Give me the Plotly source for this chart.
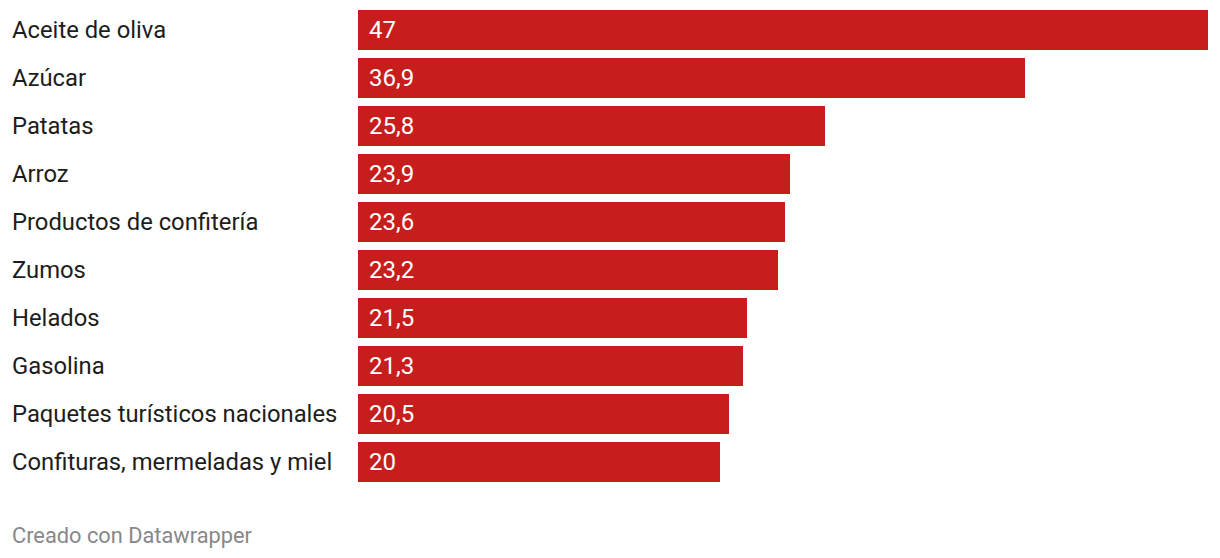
import plotly.graph_objects as go

categories = ["Aceite de oliva", "Azúcar", "Patatas", "Arroz", "Productos de confitería",
              "Zumos", "Helados", "Gasolina", "Paquetes turísticos nacionales",
              "Confituras, mermeladas y miel"]
values = [47, 36.9, 25.8, 23.9, 23.6, 23.2, 21.5, 21.3, 20.5, 20]
value_labels = [f"{v:g}".replace(".", ",") for v in values]

W, H = 1220, 558
L, R, T, B = 358, 12, 6, 72
plot_w = W - L - R
plot_h = H - T - B

fig = go.Figure(go.Bar(
    x=values, y=categories, orientation="h",
    marker=dict(color="#c71e1d", line=dict(width=0)),
    width=40/48, hoverinfo="skip",
))

annotations = []
for c, lab in zip(categories, value_labels):
    annotations.append(dict(x=0, y=c, xref="x", yref="y", text=lab, showarrow=False,
                            xanchor="left", xshift=9,
                            font=dict(family="Roboto", size=24, color="#ffffff")))
    annotations.append(dict(x=(10 - L) / plot_w, y=c, xref="paper", yref="y", text=c,
                            showarrow=False, xanchor="left",
                            font=dict(family="Roboto", size=23.8, color="#1d1d1d")))
annotations.append(dict(x=(10 - L) / plot_w, y=-(535 - (T + plot_h)) / plot_h,
                        xref="paper", yref="paper", text="Creado con Datawrapper",
                        showarrow=False, xanchor="left", yanchor="middle",
                        font=dict(family="Roboto", size=21.8, color="#888888")))

fig.update_layout(
    width=W, height=H,
    margin=dict(l=L, r=R, t=T, b=B),
    paper_bgcolor="white", plot_bgcolor="white",
    showlegend=False,
    xaxis=dict(range=[0, 47], visible=False, fixedrange=True),
    yaxis=dict(autorange="reversed", showticklabels=False, showgrid=False,
               zeroline=False, ticks="", fixedrange=True),
    annotations=annotations,
    bargap=0,
)
fig.write_html("out.html", config={"displayModeBar": False},
               post_script="document.body.style.margin='0';document.body.style.overflow='hidden';")
